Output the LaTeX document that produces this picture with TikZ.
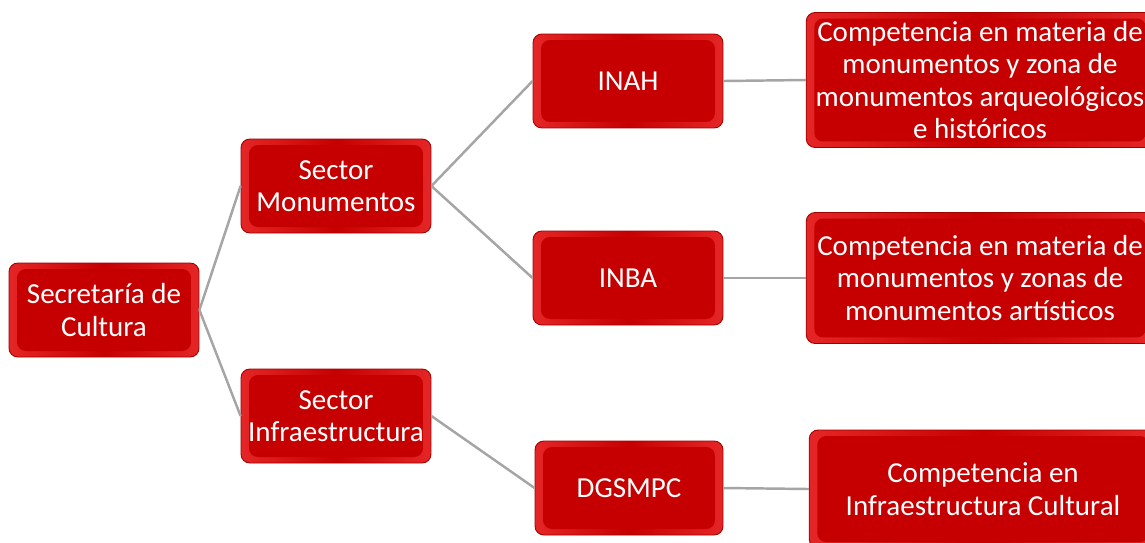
\documentclass[tikz,border=0pt]{standalone}
\usepackage{fontspec}
\setmainfont{Carlito}
\usetikzlibrary{calc}
\definecolor{rojo}{HTML}{C60000}
\definecolor{rojoclaro}{HTML}{E52626}
\definecolor{rojooscuro}{HTML}{A00000}
\definecolor{linea}{HTML}{A5A5A5}

\begin{document}
\begin{tikzpicture}[
        x=0.02cm, y=-0.02cm,
        caja/.style={draw=rojooscuro, line width=0.5pt, rounded corners=5pt,
            left color=rojoclaro, right color=rojoclaro, middle color=rojo,
            path picture={\fill[rojo] ($(path picture bounding box.south west)+(0.16cm,0.12cm)$)
                rectangle ($(path picture bounding box.north east)+(-0.16cm,-0.12cm)$);},
            text=white, align=center, inner sep=0pt,
            font=\fontsize{16.5}{18.5}\selectfont,
            minimum width=3.8cm, minimum height=1.88cm},
        ancha/.style={caja, minimum width=6.95cm, minimum height=2.7cm},
        conector/.style={draw=linea, line width=1.4pt}
    ]
        \useasboundingbox (0,0) rectangle (1145,542);
        \clip (0,0) rectangle (1145,542);

        \node[caja] (sec) at (104,310) {Secretaría de\\Cultura};
        \node[caja] (mon) at (336,186) {Sector\\Monumentos};
        \node[caja] (inf) at (336,416) {Sector\\Infraestructura};
        \node[caja] (inah) at (628,81) {INAH};
        \node[caja] (inba) at (628,278) {INBA};
        \node[caja, minimum width=3.76cm] (dgs) at (629,488) {DGSMPC};
        \node[ancha] (comp1) at (980,80) {Competencia en materia de\\monumentos y zona de\\monumentos arqueológicos\\e históricos};
        \node[ancha, minimum height=2.62cm] (comp2) at (980,278) {Competencia en materia de\\monumentos y zonas de\\monumentos artísticos};
        \node[ancha, minimum height=2.36cm] (comp3) at (983,489) {Competencia en\\Infraestructura Cultural};

        \draw[conector] (sec.east) -- (mon.west);
        \draw[conector] (sec.east) -- (inf.west);
        \draw[conector] (mon.east) -- (inah.west);
        \draw[conector] (mon.east) -- (inba.west);
        \draw[conector] (inf.east) -- (dgs.west);
        \draw[conector] (inah.east) -- (comp1.west);
        \draw[conector] (inba.east) -- (comp2.west);
        \draw[conector] (dgs.east) -- (comp3.west);
    \end{tikzpicture}
\end{document}
